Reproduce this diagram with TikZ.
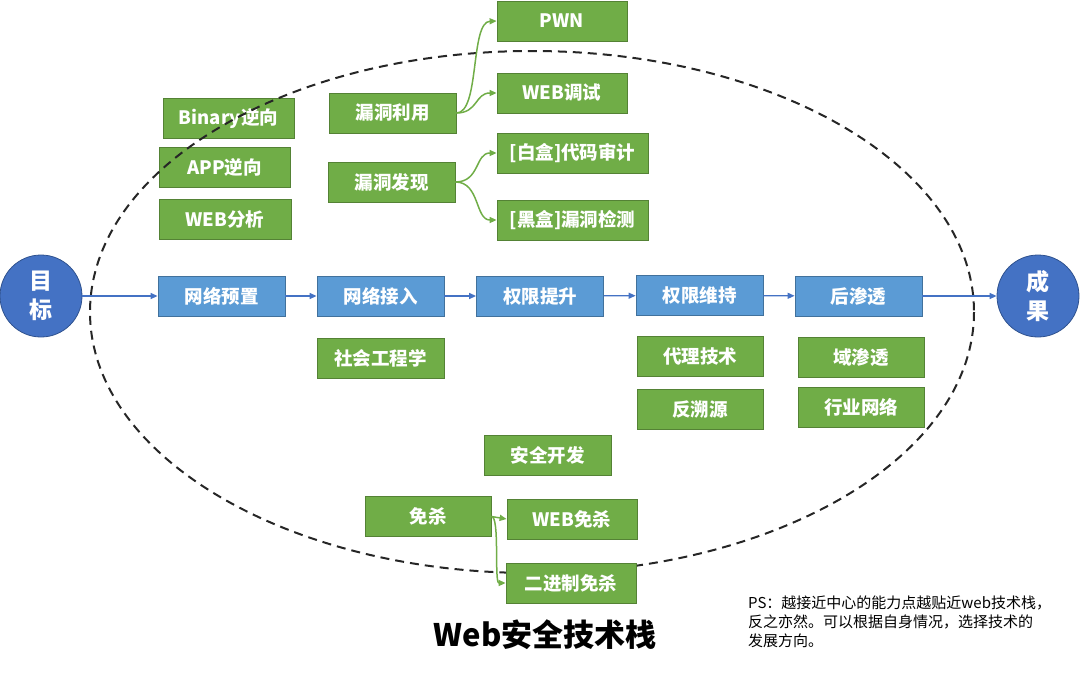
\documentclass[tikz,border=0pt]{standalone}
\usepackage{fontspec}
\setmainfont{Noto Sans CJK SC}
\usetikzlibrary{arrows.meta}
\definecolor{gfill}{HTML}{70AD47}
\definecolor{gdraw}{HTML}{548235}
\definecolor{bfill}{HTML}{5B9BD5}
\definecolor{bdraw}{HTML}{41719C}
\definecolor{cfill}{HTML}{4472C4}
\definecolor{cdraw}{HTML}{2F528F}
\tikzset{
  gbox/.style={draw=gdraw, line width=0.8pt, fill=gfill, text=white, font=\fontsize{18.5}{22}\selectfont\bfseries, minimum height=40pt, inner sep=0pt},
  bbox/.style={draw=bdraw, line width=0.8pt, fill=bfill, text=white, font=\fontsize{18.5}{22}\selectfont\bfseries, minimum height=40pt, minimum width=127pt, inner sep=0pt},
  endcirc/.style={circle, draw=cdraw, line width=0.8pt, fill=cfill, text=white, minimum size=82pt, inner sep=0pt, align=center, font=\fontsize{23}{29}\selectfont\bfseries},
  flow/.style={draw=cfill, line width=1.3pt, -{Triangle[length=7pt,width=6pt]}},
  gline/.style={draw=gfill, line width=1.5pt, -{Triangle[length=7pt,width=6pt]}},
  ring/.style={draw=black!85, line width=2pt, dash pattern=on 9pt off 6pt}
}
\begin{document}
\begin{tikzpicture}[x=1pt, y=-1pt]
\useasboundingbox (0,0) rectangle (1080,673);
% boxes under the dashed ring
\node[gbox, minimum width=131pt] (bin) at (228.5,118) {Binary逆向};
\node[gbox, minimum width=131pt] (app) at (224.5,167) {APP逆向};
% dashed ring
\draw[ring] (532,312) ellipse [x radius=442, y radius=261];
% other green boxes
\node[gbox, minimum width=132pt] (webfx) at (225,219) {WEB分析};
\node[gbox, minimum width=127pt] (ldly) at (392.5,113) {漏洞利用};
\node[gbox, minimum width=127pt] (ldfx) at (391.5,182) {漏洞发现};
\node[gbox, minimum width=130pt] (pwn) at (562,21) {PWN};
\node[gbox, minimum width=130pt] (webts) at (562,93) {WEB调试};
\node[gbox, minimum width=151pt] (bh) at (572.5,153) {[白盒]代码审计};
\node[gbox, minimum width=151pt] (hh) at (572.5,220) {[黑盒]漏洞检测};
\node[gbox, minimum width=127pt] (sg) at (380.5,358) {社会工程学};
\node[gbox, minimum width=126pt] (dl) at (700,356.5) {代理技术};
\node[gbox, minimum width=126pt] (fsy) at (700,409) {反溯源};
\node[gbox, minimum width=126pt] (yst) at (861,357) {域渗透};
\node[gbox, minimum width=126pt] (hywl) at (861,407) {行业网络};
\node[gbox, minimum width=127pt] (aqkf) at (547.5,455) {安全开发};
\node[gbox, minimum width=126pt] (ms) at (428,516.5) {免杀};
\node[gbox, minimum width=130pt] (webms) at (572,519) {WEB免杀};
\node[gbox, minimum width=130pt] (ejz) at (571,583) {二进制免杀};
% main flow
\node[endcirc] (mb) at (41,296) {目\\标};
\node[bbox] (b1) at (221.5,296) {网络预置};
\node[bbox] (b2) at (380.5,296) {网络接入};
\node[bbox] (b3) at (540,296) {权限提升};
\node[bbox] (b4) at (699.5,295.5) {权限维持};
\node[bbox] (b5) at (858.5,296) {后渗透};
\node[endcirc] (cg) at (1038,296) {成\\果};
\draw[flow] (mb) -- (b1);
\draw[flow] (b1) -- (b2);
\draw[flow] (b2) -- (b3);
\draw[flow] (b3) -- (b4);
\draw[flow] (b4) -- (b5);
\draw[flow] (b5) -- (cg);
% green connectors
\draw[gline] (ldly.east) .. controls (480,113) and (470,22) .. (pwn.west);
\draw[gline] (ldly.east) .. controls (478,113) and (475,93) .. (webts.west);
\draw[gline] (ldfx.east) .. controls (480,182) and (475,153) .. (bh.west);
\draw[gline] (ldfx.east) .. controls (480,182) and (475,220) .. (hh.west);
\draw[gline] (ms.east) -- (webms.west);
\draw[gline] (ms.east) .. controls (500,516) and (494,583) .. (ejz.west);
% title and note
\node[font=\fontsize{31}{36}\selectfont\bfseries, anchor=center] (title) at (545,635) {Web安全技术栈};
\node[font=\fontsize{15}{19}\selectfont, anchor=north west, align=left, inner sep=0pt] (note) at (748,596) {PS：越接近中心的能力点越贴近web技术栈，\\反之亦然。可以根据自身情况，选择技术的\\发展方向。};
\end{tikzpicture}
\end{document}
